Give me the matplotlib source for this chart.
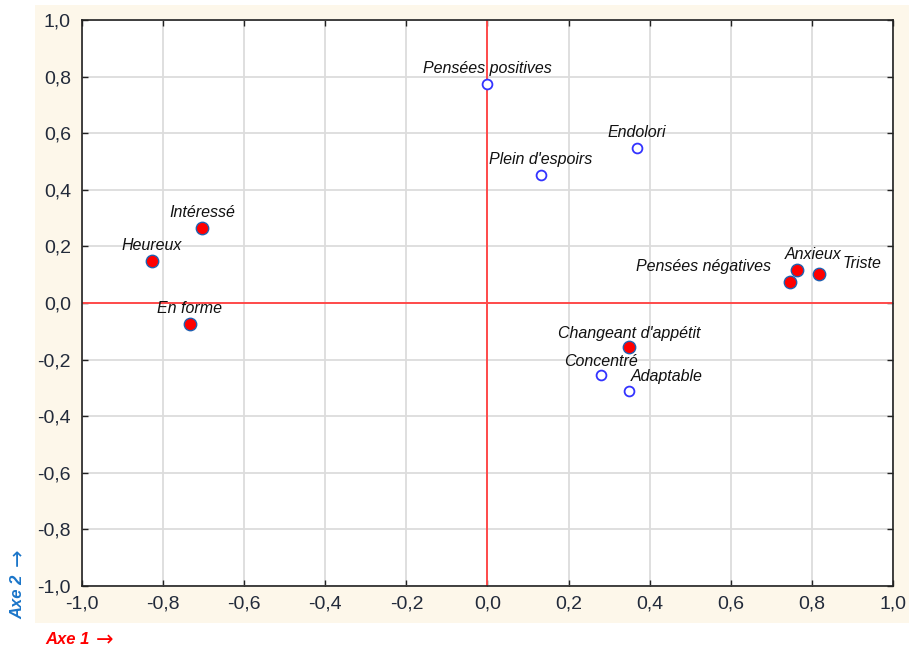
import matplotlib.pyplot as plt
from matplotlib.patches import Rectangle

# -----------------------------------------------------
# DATA (coordinates)
# -----------------------------------------------------

active_names = ["Heureux", "Intéressé", "En forme", "Anxieux",
                "Pensées négatives", "Triste", "Changeant d'appétit"]
active_x = [-0.827, -0.704, -0.734, 0.763, 0.746, 0.817, 0.349]
active_y = [0.148, 0.265, -0.074, 0.117, 0.074, 0.102, -0.155]

supp_names = ["Pensées positives", "Plein d'espoirs", "Endolori",
              "Concentré", "Adaptable"]
supp_x = [-0.001, 0.132, 0.369, 0.280, 0.349]
supp_y = [0.774, 0.452, 0.548, -0.254, -0.311]

ticks = [-1.0, -0.8, -0.6, -0.4, -0.2, 0.0, 0.2, 0.4, 0.6, 0.8, 1.0]
tick_labels = ["-1,0", "-0,8", "-0,6", "-0,4", "-0,2", "0,0",
               "0,2", "0,4", "0,6", "0,8", "1,0"]

# label offsets in points (layout only)
active_off = [(0, 6), (0, 6), (0, 6), (12, 6),
              (-62, 6), (31, 2), (0, 4)]
supp_off = [(0, 6), (0, 6), (0, 6), (0, 4), (27, 5)]

plt.rcParams['font.family'] = ['Liberation Sans', 'DejaVu Sans']

# -----------------------------------------------------
# FIGURE
# -----------------------------------------------------

fig = plt.figure(figsize=(9.09, 6.5), dpi=100)
W, H = 909, 650

fig.patches.append(Rectangle((35 / W, 1 - 623 / H), (909 - 35) / W, (623 - 5) / H,
                             transform=fig.transFigure, facecolor="#fdf7ea",
                             edgecolor="none", zorder=-5))

ax = fig.add_axes([82 / W, 1 - 586 / H, (893 - 82) / W, (586 - 20) / H])
ax.set_facecolor("white")

ax.set_xlim(-1, 1)
ax.set_ylim(-1, 1)
ax.set_xticks(ticks)
ax.set_yticks(ticks)
ax.set_xticklabels(tick_labels)
ax.set_yticklabels(tick_labels)
ax.tick_params(direction="in", length=4, width=1, colors="#222222",
               labelsize=14, labelcolor="#222a3a",
               top=True, right=True)
ax.tick_params(axis="x", pad=7)
ax.tick_params(axis="y", pad=8)

ax.grid(True, color="#dcdcdc", linewidth=1.3)
ax.set_axisbelow(True)
for s in ax.spines.values():
    s.set_color("#222222")
    s.set_linewidth(1.2)

ax.axhline(0, color="#ff4a4a", linewidth=1.4, zorder=1)
ax.axvline(0, color="#ff4a4a", linewidth=1.4, zorder=1)

ax.scatter(supp_x, supp_y, s=50, facecolors="white",
           edgecolors="#3333ff", linewidths=1.3, zorder=3)
ax.scatter(active_x, active_y, s=80, facecolors="red",
           edgecolors="#2060b0", linewidths=1.0, zorder=4)

for name, x, y, off in zip(active_names, active_x, active_y, active_off):
    ax.annotate(name, (x, y), xytext=off, textcoords="offset points",
                ha="center", va="bottom", fontsize=11.5, style="italic",
                color="#111111", zorder=5)

for name, x, y, off in zip(supp_names, supp_x, supp_y, supp_off):
    ax.annotate(name, (x, y), xytext=off, textcoords="offset points",
                ha="center", va="bottom", fontsize=11.5, style="italic",
                color="#111111", zorder=5)

# axis captions
fig.text(45 / W, 1 - 640 / H, "Axe 1", color="red", fontsize=12,
         fontweight="bold", style="italic", ha="left", va="center")
fig.text(96 / W, 1 - 640 / H, "→", color="red", fontsize=15,
         family="DejaVu Sans", ha="left", va="center")
fig.text(18 / W, 1 - 597 / H, "Axe 2", color="#1a75c9", fontsize=12,
         fontweight="bold", style="italic", ha="center", va="center",
         rotation=90)
fig.text(18 / W, 1 - 557 / H, "→", color="#1a75c9", fontsize=15,
         family="DejaVu Sans", ha="center", va="center", rotation=90)

plt.savefig("out.png", dpi=100)
